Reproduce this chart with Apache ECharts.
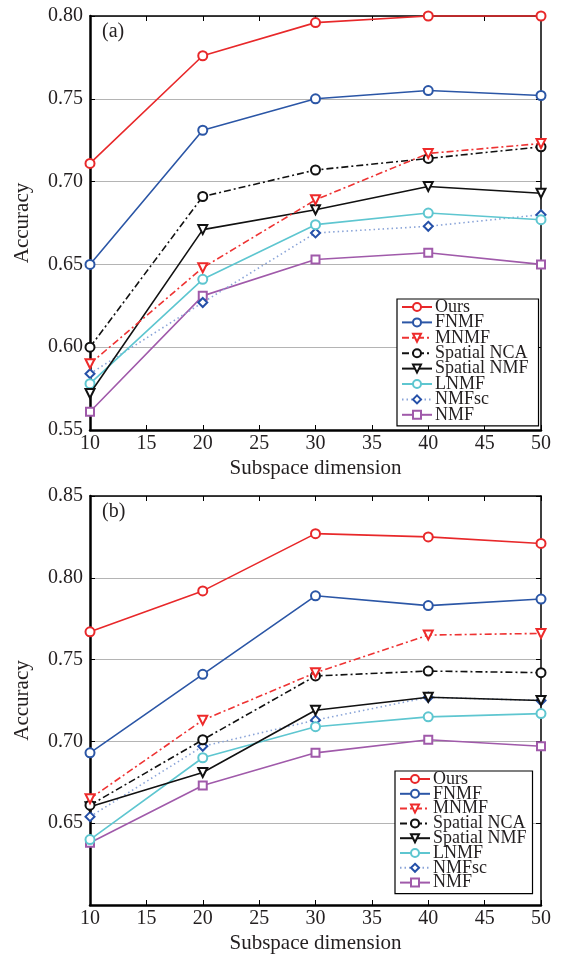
<!DOCTYPE html>
<html>
<head>
<meta charset="utf-8">
<script src="https://cdn.jsdelivr.net/npm/echarts@6/dist/echarts.min.js"></script>
<style>
html,body{margin:0;padding:0;background:#fff;}
#c{width:562px;height:955px;}
</style>
</head>
<body>
<div id="c"></div>
<script>
const dims = [10, 20, 30, 40, 50];
const xTicks = [10, 15, 20, 25, 30, 35, 40, 45, 50];
const seriesNames = ['Ours', 'FNMF', 'MNMF', 'Spatial NCA', 'Spatial NMF', 'LNMF', 'NMFsc', 'NMF'];
const panelLabels = ['(a)', '(b)'];
const xName = 'Subspace dimension';
const yName = 'Accuracy';

// Panel (a)
const a_ours  = [0.711, 0.776, 0.796, 0.800, 0.800];
const a_fnmf  = [0.650, 0.731, 0.750, 0.755, 0.752];
const a_mnmf  = [0.590, 0.648, 0.689, 0.717, 0.723];
const a_nca   = [0.600, 0.691, 0.707, 0.714, 0.721];
const a_snmf  = [0.572, 0.671, 0.683, 0.697, 0.693];
const a_lnmf  = [0.578, 0.641, 0.674, 0.681, 0.677];
const a_nmfsc = [0.584, 0.627, 0.669, 0.673, 0.680];
const a_nmf   = [0.561, 0.631, 0.653, 0.657, 0.650];
const a_yTicks = [0.55, 0.60, 0.65, 0.70, 0.75, 0.80];

// Panel (b)
const b_ours  = [0.767, 0.792, 0.827, 0.825, 0.821];
const b_fnmf  = [0.693, 0.741, 0.789, 0.783, 0.787];
const b_mnmf  = [0.665, 0.713, 0.742, 0.765, 0.766];
const b_nca   = [0.661, 0.701, 0.740, 0.743, 0.742];
const b_snmf  = [0.660, 0.681, 0.719, 0.727, 0.725];
const b_lnmf  = [0.640, 0.690, 0.709, 0.715, 0.717];
const b_nmfsc = [0.654, 0.697, 0.713, 0.727, 0.725];
const b_nmf   = [0.638, 0.673, 0.693, 0.701, 0.697];
const b_yTicks = [0.60, 0.65, 0.70, 0.75, 0.80, 0.85];

const FONT = 'Liberation Serif';
const TXT = '#231f20';

const styles = [
  {color: '#e8282a', line: '#e8282a', type: 'solid', symbol: 'emptyCircle', rot: 0},
  {color: '#2b56a6', line: '#2b56a6', type: 'solid', symbol: 'emptyCircle', rot: 0},
  {color: '#ee2a2a', line: '#ee3333', type: [7, 3, 2, 3], symbol: 'emptyTriangle', rot: 180},
  {color: '#111111', line: '#111111', type: [7, 3, 2, 3], symbol: 'emptyCircle', rot: 0},
  {color: '#111111', line: '#111111', type: 'solid', symbol: 'emptyTriangle', rot: 180},
  {color: '#5ec6d0', line: '#5ec6d0', type: 'solid', symbol: 'emptyCircle', rot: 0},
  {color: '#2550a8', line: '#8aa4d8', type: [1.5, 3], symbol: 'emptyDiamond', rot: 0},
  {color: '#a05aaa', line: '#a05aaa', type: 'solid', symbol: 'emptyRect', rot: 0}
];

const aData = [a_ours, a_fnmf, a_mnmf, a_nca, a_snmf, a_lnmf, a_nmfsc, a_nmf];
const bData = [b_ours, b_fnmf, b_mnmf, b_nca, b_snmf, b_lnmf, b_nmfsc, b_nmf];

const grids = [
  {left: 90, right: 21, top: 16, height: 414},
  {left: 90, right: 21, top: 496, height: 409}
];

const xAxes = [], yAxes = [];
[a_yTicks, b_yTicks].forEach((yt, gi) => {
  const hideFirst = gi === 1;
  xAxes.push({
    gridIndex: gi, type: 'value', min: xTicks[0], max: xTicks[xTicks.length - 1], interval: xTicks[1] - xTicks[0],
    position: 'bottom',
    name: xName, nameLocation: 'middle', nameGap: 28,
    nameTextStyle: {fontFamily: FONT, fontSize: 21, color: TXT},
    axisLine: {show: true, onZero: false, lineStyle: {color: '#000', width: 2.5}},
    axisTick: {show: true, inside: true, length: 5, lineStyle: {color: '#000', width: 1}},
    axisLabel: {fontFamily: FONT, fontSize: 20, color: TXT, margin: 4},
    splitLine: {show: false}
  });
  xAxes.push({
    gridIndex: gi, type: 'value', min: xTicks[0], max: xTicks[xTicks.length - 1], interval: xTicks[1] - xTicks[0],
    position: 'top',
    axisLine: {show: true, onZero: false, lineStyle: {color: '#000', width: 1.5}},
    axisTick: {show: true, inside: true, length: 5, lineStyle: {color: '#000', width: 1}},
    axisLabel: {show: false}, splitLine: {show: false}
  });
  yAxes.push({
    gridIndex: gi, type: 'value', min: yt[0], max: yt[yt.length - 1], interval: 0.05,
    position: 'left',
    name: yName, nameLocation: 'middle', nameGap: 57, nameRotate: 90,
    nameTextStyle: {fontFamily: FONT, fontSize: 21, color: TXT},
    axisLine: {show: true, onZero: false, lineStyle: {color: '#000', width: 2.5}},
    axisTick: {show: true, inside: true, length: 5, lineStyle: {color: '#000', width: 1}},
    axisLabel: {fontFamily: FONT, fontSize: 20, color: TXT, margin: 7,
      formatter: v => (hideFirst && Math.abs(v - yt[0]) < 1e-9) ? '' : v.toFixed(2)},
    splitLine: {show: true, lineStyle: {color: '#b4b4b4', width: 1.2}}
  });
  yAxes.push({
    gridIndex: gi, type: 'value', min: yt[0], max: yt[yt.length - 1], interval: 0.05,
    position: 'right',
    axisLine: {show: true, onZero: false, lineStyle: {color: '#000', width: 1.5}},
    axisTick: {show: true, inside: true, length: 5, lineStyle: {color: '#000', width: 1}},
    axisLabel: {show: false}, splitLine: {show: false}
  });
});

const series = [];
[aData, bData].forEach((dataset, gi) => {
  dataset.forEach((vals, si) => {
    const s = styles[si];
    series.push({
      name: seriesNames[si], type: 'line',
      xAxisIndex: gi * 2, yAxisIndex: gi * 2,
      data: dims.map((d, i) => [d, vals[i]]),
      symbol: s.symbol, symbolSize: s.symbol === 'emptyRect' ? 8 : 9, symbolRotate: s.rot,
      showAllSymbol: true, clip: false,
      lineStyle: {color: s.line, width: 1.6, type: s.type},
      itemStyle: {color: s.color, borderColor: s.color, borderWidth: 1.5},
      z: 10 - si,
      animation: false
    });
  });
});

const legendCommon = {
  orient: 'vertical', itemWidth: 30, itemHeight: 10,
  backgroundColor: '#fff', borderColor: '#000', borderWidth: 1.2,
  textStyle: {fontFamily: FONT, fontSize: 18, color: TXT, padding: [0, 0, 0, -2]},
  selectedMode: false,
  data: seriesNames
};

const option = {
  animation: false,
  backgroundColor: '#fff',
  grid: grids,
  xAxis: xAxes,
  yAxis: yAxes,
  series: series,
  legend: [
    Object.assign({}, legendCommon, {left: 397, top: 299, itemGap: -2.6, padding: [-1, 10, 2, 4]}),
    Object.assign({}, legendCommon, {left: 395, top: 771, itemGap: -3.2, padding: [-1, 6, 2, 4]})
  ],
  graphic: [
    {type: 'text', left: 102, top: 22, style: {text: panelLabels[0], fontFamily: FONT, fontSize: 20, fill: TXT}},
    {type: 'text', left: 102, top: 502, style: {text: panelLabels[1], fontFamily: FONT, fontSize: 20, fill: TXT}}
  ]
};

const chart = echarts.init(document.getElementById('c'), null, {renderer: 'canvas'});
chart.setOption(option);
</script>
</body>
</html>
